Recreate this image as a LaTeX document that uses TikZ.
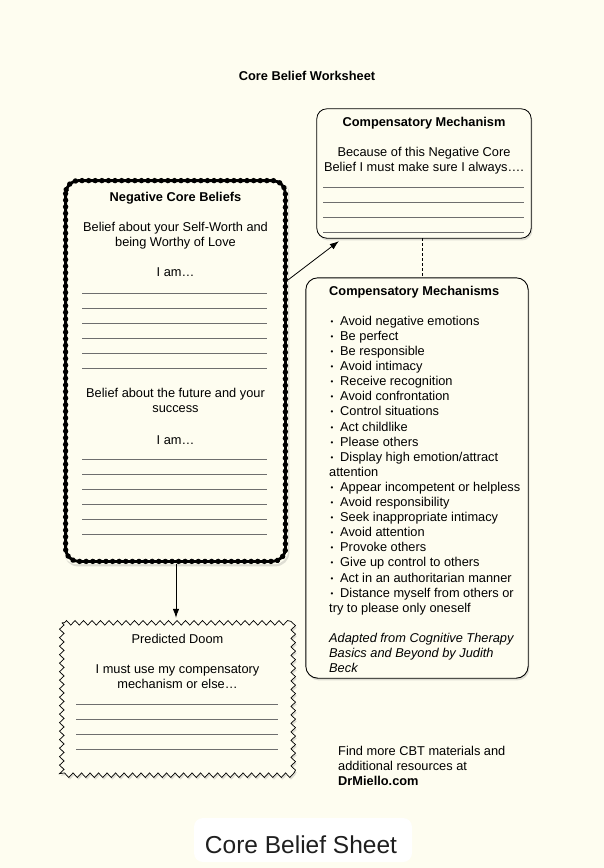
\documentclass[tikz,border=0pt]{standalone}
\usepackage{fontspec}
\setmainfont{Liberation Sans}
\usetikzlibrary{arrows.meta,shadows,decorations.pathmorphing,decorations.markings,calc}
\definecolor{cream}{HTML}{FEFDF0}
\definecolor{rulegray}{HTML}{6E6E6E}
\newcommand\bul{\makebox[11pt][l]{\hspace{1.5pt}\raisebox{1pt}{\fontsize{8}{8}\selectfont •}}}
\begin{document}
\begin{tikzpicture}[x=1pt,y=-1pt,
  txt/.style={inner sep=0pt, font=\fontsize{12.8}{15.1}\selectfont},
  area/.style 2 args={draw=none, inner sep=0pt, minimum width=#1, minimum height=#2},
  shade/.style={drop shadow={shadow xshift=1.2pt, shadow yshift=-2.2pt, opacity=0.25}},
  wline/.style={draw=rulegray, line width=1pt},
  arr/.style={-{Latex[length=9pt,width=6.5pt]}, line width=0.8pt},
  beads/.style={postaction={decorate, decoration={markings,
      mark=between positions 0 and 1 step 6.6pt with {\fill (0pt,0pt) circle (2.7pt);}}}},
]
\fill[cream] (0,0) rectangle (604,868);
\useasboundingbox (0,0) rectangle (604,868);

% areas
\node[area={225pt}{386pt}] (ncb) at (175.5,371) {};
\node[area={214pt}{129pt}] (cm) at (424,173.5) {};
\node[area={222pt}{400pt}] (cms) at (417,478) {};
\node[area={231pt}{152pt}] (pd) at (177.5,699) {};

% title
\node[txt, anchor=base] (title) at (307,80) {\textbf{Core Belief Worksheet}};

% Compensatory Mechanism box
\draw[fill=cream, line width=0.8pt, rounded corners=10pt, shade] (cm.north west) rectangle (cm.south east);
\node[txt, anchor=north, align=center] (cmt) at (424,115.4)
  {\strut\textbf{Compensatory Mechanism}\\[15.1pt]Because of this Negative Core\\Belief I must make sure I always….};
\foreach \y in {187,202,217,232} \draw[wline] (323,\y) -- (524,\y);

% Negative core beliefs box
\fill[cream, shade, rounded corners=14pt] (ncb.north west) rectangle (ncb.south east);
\draw[line width=2.8pt, rounded corners=13pt, beads]
  ($(ncb.north west)+(2.8,2.8)$) rectangle ($(ncb.south east)+(-2.8,-2.8)$);
\node[txt, anchor=north, align=center] (ncbt) at (175.5,190.4)
  {\strut\textbf{Negative Core Beliefs}\\[15.1pt]Belief about your Self-Worth and\\being Worthy of Love\\[15.1pt]I am…};
\foreach \y in {293,308,323,338,353,368} \draw[wline] (82,\y) -- (267,\y);
\node[txt, anchor=north, align=center] (ncbt2) at (175.5,386.4)
  {\strut Belief about the future and your\\success};
\node[txt, anchor=base] (ncbt3) at (175.5,444) {I am…};
\foreach \y in {459,474,489,504,519,534} \draw[wline] (82,\y) -- (267,\y);

% Compensatory mechanisms list box
\draw[fill=cream, line width=0.9pt, rounded corners=12pt, shade] (cms.north west) rectangle (cms.south east);
\node[txt, anchor=north west, align=left] (cmst) at (329,284.4)
  {\strut\textbf{Compensatory Mechanisms}\\[15.1pt]
   \bul Avoid negative emotions\\
   \bul Be perfect\\
   \bul Be responsible\\
   \bul Avoid intimacy\\
   \bul Receive recognition\\
   \bul Avoid confrontation\\
   \bul Control situations\\
   \bul Act childlike\\
   \bul Please others\\
   \bul Display high emotion/attract\\
   attention\\
   \bul Appear incompetent or helpless\\
   \bul Avoid responsibility\\
   \bul Seek inappropriate intimacy\\
   \bul Avoid attention\\
   \bul Provoke others\\
   \bul Give up control to others\\
   \bul Act in an authoritarian manner\\
   \bul Distance myself from others or\\
   try to please only oneself\\[15.1pt]
   \textit{Adapted from Cognitive Therapy}\\
   \textit{Basics and Beyond by Judith}\\
   \textit{Beck}};

% Predicted doom box
\draw[fill=cream, shade, line width=0.7pt, decorate, decoration={zigzag, segment length=8.5pt, amplitude=2.3pt}]
  (pd.north west) rectangle (pd.south east);
\node[txt, anchor=north, align=center] (pdt) at (177.5,632.4)
  {\strut Predicted Doom\\[15.1pt]I must use my compensatory\\mechanism or else…};
\foreach \y in {704,719,734,749} \draw[wline] (76,\y) -- (278,\y);

% connectors
\draw[arr] ($(ncb.north east)+(0,102)$) -- ($(cm.south west)+(22,3)$);
\draw[dashed, line width=0.7pt, dash pattern=on 3pt off 2pt] ($(cm.south)+(-2,0)$) coordinate (d1) -- (d1 |- cms.north);
\draw[arr, shorten >=5pt] ($(ncb.south)+(0.5,0)$) coordinate (d2) -- (d2 |- pd.north);

% footer
\node[txt, anchor=north west, align=left] (foot) at (338,744.4)
  {\strut Find more CBT materials and\\additional resources at\\\textbf{DrMiello.com}};

% bottom label
\node[area={218pt}{44pt}, fill=white, rounded corners=9pt] (lbl) at (303,840) {};
\node[inner sep=0pt, anchor=base, font=\fontsize{24.5}{28}\selectfont, text=black!88] (lblt) at (301,853) {Core Belief Sheet};
\end{tikzpicture}
\end{document}
